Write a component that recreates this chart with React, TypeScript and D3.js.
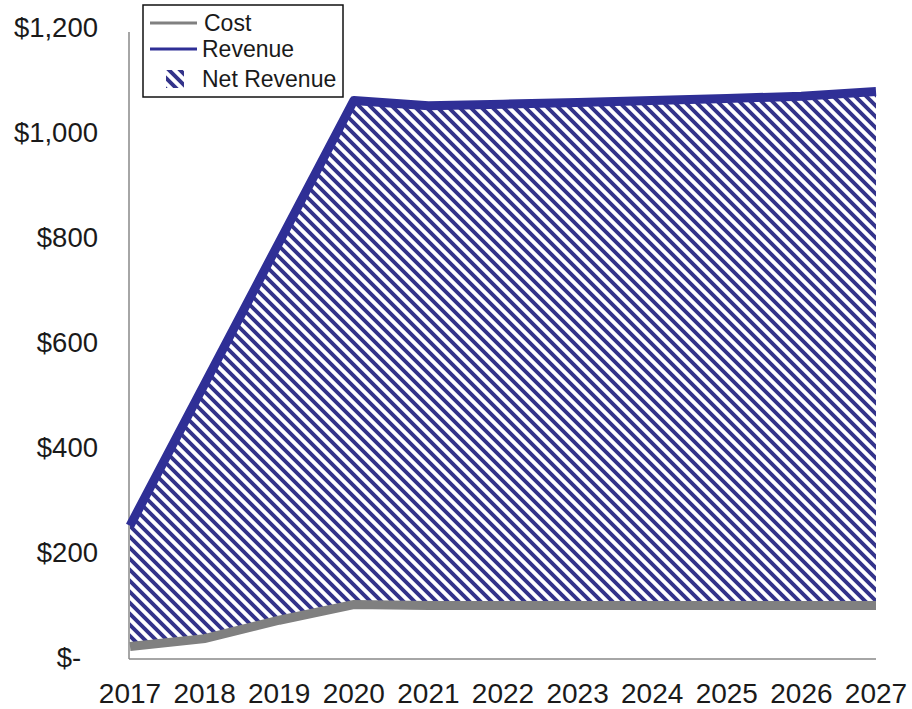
import React from "react";
import * as d3 from "d3";

const years = [2017, 2018, 2019, 2020, 2021, 2022, 2023, 2024, 2025, 2026, 2027];
const revenue = [250, 520, 790, 1060, 1050, 1053, 1056, 1060, 1064, 1068, 1077];
const cost = [20, 35, 70, 100, 98, 98, 98, 98, 98, 98, 98];
const yTicks = [0, 200, 400, 600, 800, 1000, 1200];

const W = 912;
const H = 709;
const M = { left: 130, right: 876, top: 27, bottom: 657 };
const NAVY = "#2f2f96";
const HATCH = "#33338a";
const GREY = "#808080";
const FONT = "'Liberation Sans', Arial, sans-serif";
const P = 11; // hatch period, px

export default function App() {
  const x = d3.scalePoint<number>().domain(years).range([M.left, M.right]);
  const y = d3.scaleLinear().domain([0, 1200]).range([M.bottom, M.top]);

  const rows = years.map((yr, i) => ({ yr, rev: revenue[i], cost: cost[i] }));
  const area = d3
    .area<(typeof rows)[number]>()
    .x((d) => x(d.yr)!)
    .y0((d) => y(d.cost))
    .y1((d) => y(d.rev));
  const revLine = d3.line<(typeof rows)[number]>().x((d) => x(d.yr)!).y((d) => y(d.rev));
  const costLine = d3.line<(typeof rows)[number]>().x((d) => x(d.yr)!).y((d) => y(d.cost));

  const fmt = (v: number) => (v === 0 ? "$-" : "$" + d3.format(",")(v));
  const h = P / 2;

  return (
    <svg width={W} height={H} style={{ position: "absolute", left: 0, top: 0, background: "#fff" }}>
      <defs>
        <pattern id="hatch" patternUnits="userSpaceOnUse" width={P} height={P}>
          <path
            d={`M${-h},${-h} L${P + h},${P + h} M${-h},${h} L${h},${P + h} M${h},${-h} L${P + h},${h}`}
            stroke={HATCH}
            strokeWidth={3.9}
          />
        </pattern>
      </defs>

      {/* axes */}
      <line x1={M.left - 1} x2={M.left - 1} y1={32} y2={M.bottom + 2} stroke="#888" strokeWidth={1.5} />
      <line x1={M.left - 1} x2={M.right} y1={M.bottom + 2} y2={M.bottom + 2} stroke="#888" strokeWidth={1.5} />

      {/* net revenue band */}
      <path d={area(rows)!} fill="url(#hatch)" />
      <path d={costLine(rows)!} fill="none" stroke={GREY} strokeWidth={9} />
      <path d={revLine(rows)!} fill="none" stroke={NAVY} strokeWidth={9} strokeLinejoin="round" />

      {/* y tick labels */}
      {yTicks.map((t) => (
        <text
          key={t}
          x={t === 0 ? 69 : 98}
          y={y(t)}
          dy="0.35em"
          textAnchor={t === 0 ? "middle" : "end"}
          fontFamily={FONT}
          fontSize={27.5}
          fill="#1a1a1a"
        >
          {fmt(t)}
        </text>
      ))}

      {/* x tick labels */}
      {years.map((yr) => (
        <text
          key={yr}
          x={x(yr)!}
          y={693}
          dy="0.35em"
          textAnchor="middle"
          fontFamily={FONT}
          fontSize={28}
          fill="#1a1a1a"
        >
          {yr}
        </text>
      ))}

      {/* legend */}
      <g>
        <rect x={143} y={5} width={200} height={92} fill="#fff" stroke="#111" strokeWidth={1.5} />
        <line x1={150} x2={197} y1={23} y2={23} stroke={GREY} strokeWidth={3} />
        <text x={204} y={23} dy="0.35em" fontFamily={FONT} fontSize={23} fill="#1a1a1a">Cost</text>
        <line x1={150} x2={197} y1={49} y2={49} stroke={NAVY} strokeWidth={3} />
        <text x={202} y={49} dy="0.35em" fontFamily={FONT} fontSize={23} fill="#1a1a1a">Revenue</text>
        <rect x={166} y={70} width={18} height={18} fill="url(#hatch)" />
        <text x={202} y={79} dy="0.35em" fontFamily={FONT} fontSize={23} fill="#1a1a1a">Net Revenue</text>
      </g>
    </svg>
  );
}
